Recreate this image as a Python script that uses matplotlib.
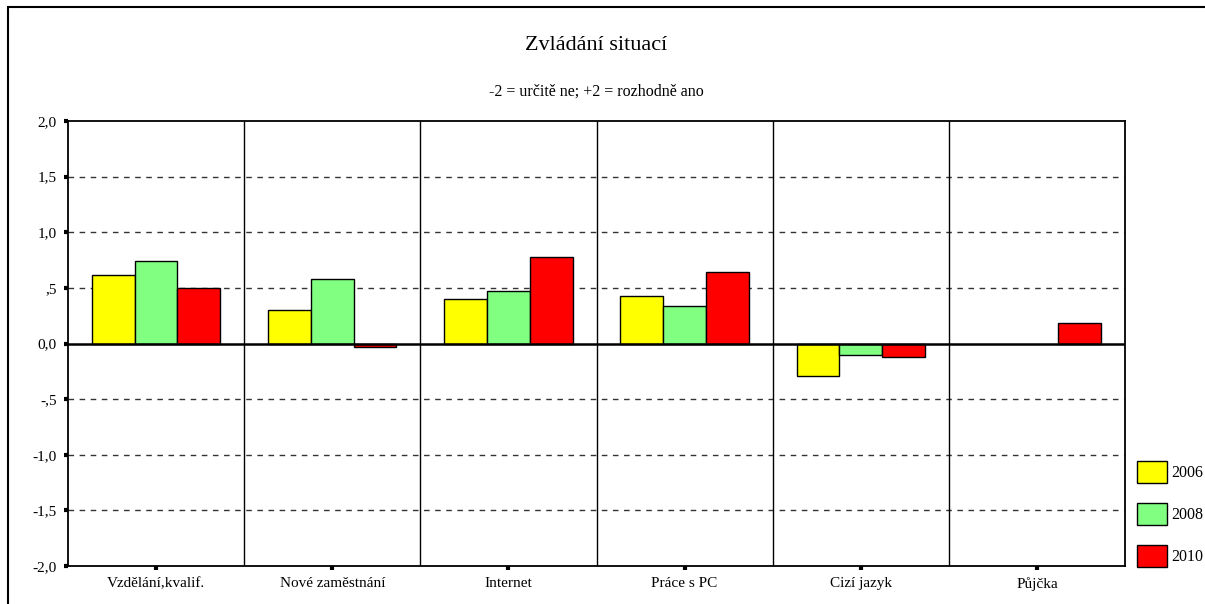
import numpy as np
import matplotlib.pyplot as plt
from matplotlib.patches import Rectangle

plt.rcParams['font.family'] = ['Liberation Serif', 'DejaVu Serif']

categories = ['Vzdělání,kvalif.', 'Nové zaměstnání', 'Internet', 'Práce s PC', 'Cizí jazyk', 'Půjčka']
years = ['2006', '2008', '2010']
v2006 = [0.62, 0.30, 0.40, 0.43, -0.29, np.nan]
v2008 = [0.74, 0.58, 0.47, 0.34, -0.10, np.nan]
v2010 = [0.50, -0.03, 0.78, 0.64, -0.12, 0.18]
colors = ['#ffff00', '#80ff80', '#ff0000']
yticks = [-2.0, -1.5, -1.0, -0.5, 0.0, 0.5, 1.0, 1.5, 2.0]
ylabels = ['-2,0', '-1,5', '-1,0', '-,5', '0,0', ',5', '1,0', '1,5', '2,0']

W, H = 1205, 604
fig = plt.figure(figsize=(W / 100, H / 100), dpi=100)
ax = fig.add_axes([68 / W, 1 - 566 / H, (1125 - 68) / W, (566 - 121) / H])

x = np.arange(len(categories))
bw = 0.243
for i, (vals, c, lab) in enumerate(zip([v2006, v2008, v2010], colors, years)):
    ax.bar(x + (i - 1) * bw, vals, bw, color=c, edgecolor='black', linewidth=1, label=lab, zorder=3)

# grid lines
for y in [-1.5, -1.0, -0.5, 0.5, 1.0, 1.5]:
    ax.axhline(y, color='#333333', lw=1, ls=(0, (4, 4)), zorder=1)
ax.axhline(0, color='black', lw=1.8, zorder=4)
for s in np.arange(0.5, len(categories) - 1, 1):
    ax.axvline(s, color='black', lw=1, zorder=2)

ax.set_xlim(-0.5, len(categories) - 0.5)
ax.set_ylim(-2, 2)
ax.set_yticks(yticks)
ax.set_yticklabels(ylabels)
ax.set_xticks(x)
ax.set_xticklabels(categories)
ax.tick_params(axis='both', direction='out', length=3, width=3, labelsize=11, pad=5)
for sp in ax.spines.values():
    sp.set_linewidth(1.3)

fig.text(596 / W, 1 - 45 / H, 'Zvládání situací', ha='center', va='center', fontsize=16)
fig.text(596 / W, 1 - 92 / H, '-2 = určitě ne; +2 = rozhodně ano', ha='center', va='center', fontsize=11.5)

ax.legend(loc='lower left', bbox_to_anchor=(1137 / W, 1 - 567 / H), bbox_transform=fig.transFigure,
          frameon=False, fontsize=11.5, handlelength=1.9, handleheight=1.7, labelspacing=1.28,
          handletextpad=0.25, borderpad=0, borderaxespad=0)

# outer frame (cropped at right and bottom)
fig.patches.append(Rectangle((8 / W, -0.1), 1.0, 1.1 - 7 / H, transform=fig.transFigure,
                             fill=False, edgecolor='black', lw=1.5, clip_on=False))

fig.savefig('out.png', dpi=100)
